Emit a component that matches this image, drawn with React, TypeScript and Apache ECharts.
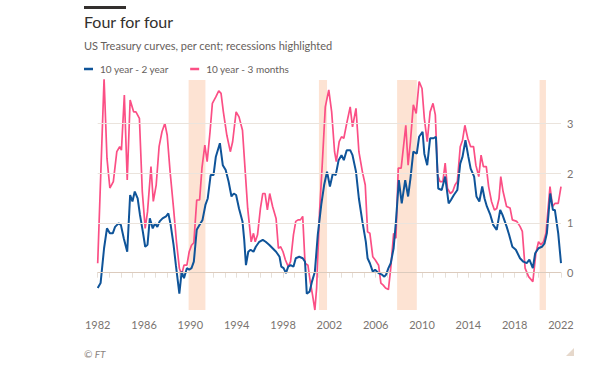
import React, { useEffect, useRef } from "react";
import * as echarts from "echarts";

const titleText = "Four for four";
const subtitleText = "US Treasury curves, per cent; recessions highlighted";
const sourceText = "© FT";
const seriesNames = ["10 year - 2 year", "10 year - 3 months"];
const yLabelValues = [0, 1, 2, 3];
const gridValues = [0, 1, 2, 3];
const recessions: [number, number][] = [
  [1989.85, 1991.3],
  [2001.1, 2001.8],
  [2007.85, 2009.55],
  [2020.15, 2020.7],
];

const twoYearYears = [
  1982.0, 1982.25, 1982.55, 1982.8, 1983.05, 1983.3, 1983.5, 1983.8, 1984.0, 1984.25, 1984.55, 1984.8,
  1985.0, 1985.2, 1985.45, 1985.65, 1985.9, 1986.1, 1986.3, 1986.5, 1986.75, 1986.95, 1987.15, 1987.35,
  1987.6, 1987.9, 1988.1, 1988.3, 1988.55, 1988.75, 1989.05, 1989.25, 1989.45, 1989.7, 1989.9, 1990.1,
  1990.3, 1990.55, 1990.8, 1991.05, 1991.3, 1991.5, 1991.75, 1992.0, 1992.2, 1992.55, 1992.8, 1993.05,
  1993.3, 1993.55, 1993.75, 1993.95, 1994.2, 1994.5, 1994.65, 1994.8, 1995.0, 1995.2, 1995.45, 1995.65,
  1995.95, 1996.25, 1996.5, 1996.8, 1997.1, 1997.4, 1997.7, 1997.85, 1998.05, 1998.25, 1998.45, 1998.65,
  1998.9, 1999.1, 1999.4, 1999.7, 1999.9, 2000.05, 2000.3, 2000.5, 2000.75, 2001.0, 2001.3, 2001.55,
  2001.8, 2002.05, 2002.3, 2002.55, 2002.8, 2003.05, 2003.25, 2003.5, 2003.8, 2004.0, 2004.3, 2004.55,
  2004.85, 2005.15, 2005.3, 2005.5, 2005.75, 2005.95, 2006.25, 2006.55, 2006.75, 2006.9, 2007.1, 2007.3,
  2007.55, 2007.75, 2008.0, 2008.25, 2008.55, 2008.8, 2009.0, 2009.25, 2009.55, 2009.75, 2010.05, 2010.2,
  2010.45, 2010.7, 2011.0, 2011.2, 2011.4, 2011.7, 2012.0, 2012.3, 2012.5, 2012.75, 2013.05, 2013.3,
  2013.5, 2013.75, 2014.0, 2014.2, 2014.5, 2014.7, 2014.95, 2015.2, 2015.4, 2015.6, 2015.9, 2016.15,
  2016.45, 2016.75, 2016.95, 2017.3, 2017.52, 2017.8, 2018.1, 2018.46, 2018.75, 2019.04, 2019.27, 2019.57,
  2019.77, 2020.06, 2020.35, 2020.58, 2020.78, 2021.07, 2021.3, 2021.47, 2021.76, 2022.0,
];
const twoYearValues = [
  -0.31, -0.21, 0.49, 0.89, 0.79, 0.79, 0.92, 0.99, 0.96, 0.69, 0.42, 1.56,
  1.43, 1.63, 1.49, 1.16, 0.82, 0.52, 0.56, 1.09, 0.89, 0.99, 0.92, 1.03,
  1.09, 1.13, 1.19, 0.96, 0.56, 0.15, -0.42, 0.02, -0.11, 0.09, 0.06, 0.09,
  0.22, 0.86, 0.96, 1.06, 1.36, 1.49, 1.96, 1.96, 2.33, 2.6, 2.16, 2.06,
  1.83, 1.53, 1.59, 1.56, 1.29, 1.03, 0.66, 0.15, 0.42, 0.46, 0.42, 0.52,
  0.62, 0.66, 0.62, 0.56, 0.49, 0.42, 0.32, 0.12, 0.09, -0.01, 0.12, 0.15,
  0.12, 0.29, 0.32, 0.29, 0.22, -0.42, -0.38, -0.18, 0.02, 0.76, 1.36, 1.76,
  2.03, 1.73, 1.99, 1.96, 2.26, 2.36, 2.26, 2.46, 2.46, 2.36, 2.03, 1.49,
  1.03, 0.62, 0.29, 0.19, 0.02, 0.06, -0.01, -0.04, -0.08, -0.04, 0.09, 0.19,
  0.49, 1.03, 1.86, 1.39, 1.86, 1.53, 1.89, 2.43, 2.39, 2.73, 2.83, 2.39,
  2.16, 2.7, 2.7, 2.73, 1.69, 1.66, 1.93, 1.39, 1.46, 1.56, 1.66, 2.19,
  2.33, 2.66, 2.33, 2.09, 1.93, 1.53, 1.43, 1.73, 1.49, 1.33, 1.16, 0.96,
  0.86, 1.26, 1.16, 0.93, 0.76, 0.52, 0.46, 0.29, 0.22, 0.19, 0.26, 0.09,
  0.39, 0.49, 0.52, 0.59, 0.79, 1.59, 1.26, 1.26, 0.79, 0.19,
];

const threeMonthYears = [
  1982.0, 1982.55, 1982.8, 1983.05, 1983.35, 1983.65, 1983.9, 1984.05, 1984.3, 1984.55, 1984.8, 1985.1,
  1985.3, 1985.6, 1985.85, 1986.1, 1986.3, 1986.6, 1986.8, 1987.05, 1987.3, 1987.55, 1987.8, 1988.0,
  1988.25, 1988.55, 1988.8, 1989.05, 1989.25, 1989.45, 1989.7, 1989.9, 1990.1, 1990.3, 1990.55, 1990.8,
  1991.0, 1991.25, 1991.45, 1991.7, 1991.9, 1992.2, 1992.45, 1992.65, 1992.85, 1993.15, 1993.45, 1993.65,
  1993.95, 1994.2, 1994.5, 1994.7, 1994.95, 1995.25, 1995.45, 1995.6, 1995.8, 1996.05, 1996.25, 1996.45,
  1996.65, 1996.85, 1997.1, 1997.4, 1997.6, 1997.8, 1998.0, 1998.2, 1998.45, 1998.65, 1998.9, 1999.1,
  1999.3, 1999.5, 1999.7, 1999.9, 2000.15, 2000.35, 2000.55, 2000.75, 2000.9, 2001.15, 2001.4, 2001.65,
  2001.95, 2002.2, 2002.45, 2002.6, 2002.85, 2003.05, 2003.25, 2003.5, 2003.8, 2004.0, 2004.3, 2004.55,
  2004.85, 2005.1, 2005.3, 2005.5, 2005.75, 2005.95, 2006.25, 2006.45, 2006.65, 2006.85, 2007.1, 2007.3,
  2007.55, 2007.75, 2007.95, 2008.2, 2008.6, 2008.8, 2009.0, 2009.25, 2009.5, 2009.75, 2010.0, 2010.2,
  2010.45, 2010.7, 2010.95, 2011.15, 2011.35, 2011.55, 2011.8, 2012.0, 2012.2, 2012.45, 2012.65, 2012.85,
  2013.05, 2013.3, 2013.5, 2013.7, 2013.95, 2014.2, 2014.45, 2014.65, 2014.9, 2015.1, 2015.3, 2015.55,
  2015.75, 2016.0, 2016.25, 2016.45, 2016.65, 2016.8, 2017.0, 2017.3, 2017.6, 2017.8, 2018.18, 2018.46,
  2018.66, 2018.9, 2019.2, 2019.57, 2019.83, 2020.06, 2020.26, 2020.49, 2020.7, 2021.05, 2021.27, 2021.47,
  2021.76, 2022.0,
];
const threeMonthValues = [
  0.19, 3.9, 2.3, 1.7, 1.83, 2.43, 2.53, 2.46, 3.57, 1.86, 3.47, 3.23,
  3.23, 3.1, 1.63, 0.89, 1.22, 2.13, 1.43, 1.76, 2.53, 2.83, 3.0, 2.76,
  2.03, 1.29, 0.62, 0.09, -0.04, 0.15, 0.15, 0.42, 0.55, 0.6, 1.46, 1.46,
  2.1, 2.56, 2.23, 2.83, 3.4, 3.53, 3.65, 3.6, 3.23, 2.76, 2.43, 2.63,
  3.23, 3.13, 2.86, 2.16, 1.29, 0.62, 0.79, 0.62, 0.76, 1.29, 1.59, 1.59,
  1.26, 1.59, 1.33, 1.09, 0.49, 0.52, 0.42, 0.26, 0.12, 0.22, 0.76, 1.03,
  1.06, 1.06, 1.13, 0.19, 0.15, -0.18, -0.45, -0.75, -0.31, 1.2, 2.23, 3.33,
  3.67, 3.23, 2.43, 2.23, 2.63, 2.73, 2.7, 3.0, 3.33, 2.93, 3.3, 2.43,
  2.03, 1.76, 0.82, 0.79, 0.32, 0.26, 0.15, -0.21, -0.25, -0.31, -0.34, 0.09,
  0.79, 0.69, 2.1, 2.1, 2.96, 2.16, 2.63, 3.37, 3.2, 3.84, 3.7, 3.1,
  2.63, 3.23, 3.4, 3.17, 1.96, 1.83, 1.83, 2.2, 1.69, 1.59, 1.63, 1.76,
  1.83, 2.53, 2.66, 2.96, 2.7, 2.53, 2.53, 2.16, 1.93, 2.36, 2.13, 2.13,
  1.73, 1.43, 1.26, 1.29, 1.49, 1.93, 1.63, 1.33, 1.3, 1.06, 1.03, 0.93,
  0.83, 0.09, -0.08, -0.18, 0.39, 0.62, 0.56, 0.62, 0.79, 1.73, 1.33, 1.39,
  1.39, 1.73,
];

const BLUE = "#0f5499";
const PINK = "#fb4f85";
const FONT = "Lato, 'Open Sans', sans-serif";

export default function App() {
  const ref = useRef<HTMLDivElement>(null);
  useEffect(() => {
    if (!ref.current) return;
    const chart = echarts.init(ref.current, null, { renderer: "svg" });
    const zip = (xs: number[], ys: number[]) => xs.map((x, i) => [x, ys[i]]);
    chart.setOption({
      animation: false,
      backgroundColor: "#ffffff",
      textStyle: { fontFamily: FONT },
      title: [
        {
          text: titleText,
          left: 84,
          top: 13,
          padding: 0,
          textStyle: { fontSize: 16, fontWeight: "normal", color: "#33302e", fontFamily: FONT },
        },
        {
          text: subtitleText,
          left: 84,
          top: 40,
          padding: 0,
          textStyle: { fontSize: 11, fontWeight: "normal", color: "#66605c", fontFamily: FONT },
        },
      ],
      legend: {
        left: 84,
        top: 64,
        padding: 0,
        itemGap: 21,
        itemWidth: 9,
        itemHeight: 2.5,
        icon: "rect",
        textStyle: { fontSize: 10, color: "#66605c", fontFamily: FONT, padding: [0, 0, 0, 2] },
        data: seriesNames,
      },
      grid: { left: 97.7, right: 41, top: 80, bottom: 68, containLabel: false },
      xAxis: {
        type: "value",
        min: 1982,
        max: 2022,
        interval: 1,
        axisLine: { show: true, lineStyle: { color: "#e6dfd8", width: 1 } },
        axisTick: { show: true, length: 5, lineStyle: { color: "#e6dfd8" } },
        splitLine: { show: false },
        axisLabel: {
          color: "#7a7470",
          fontSize: 11,
          margin: 9,
          fontFamily: FONT,
          formatter: (v: number) => ((Math.round(v) - 1982) % 4 === 0 ? String(Math.round(v)) : ""),
        },
      },
      yAxis: {
        type: "value",
        position: "right",
        min: -0.75,
        max: 3.87,
        axisLine: { show: false },
        axisTick: { show: false },
        splitLine: { show: false },
        axisLabel: {
          customValues: yLabelValues,
          color: "#7a7470",
          fontSize: 11,
          margin: 6,
          fontFamily: FONT,
        },
      },
      series: [
        {
          name: "grid",
          type: "line",
          data: [],
          z: 1,
          silent: true,
          markLine: {
            silent: true,
            symbol: "none",
            label: { show: false },
            data: gridValues.map((v) => ({
              yAxis: v,
              lineStyle: { color: v === 0 ? "#dccbbd" : "#ebe4dd", width: 1, type: "solid" },
            })),
          },
        },
        {
          name: "bands",
          type: "line",
          data: [],
          z: 2,
          silent: true,
          markArea: {
            silent: true,
            itemStyle: { color: "#fde3d3", opacity: 1 },
            data: recessions.map(([a, b]) => [{ xAxis: a }, { xAxis: b }]),
          },
        },
        {
          name: seriesNames[0],
          type: "line",
          z: 4,
          showSymbol: false,
          symbol: "none",
          color: BLUE,
          lineStyle: { width: 2, color: BLUE },
          data: zip(twoYearYears, twoYearValues),
        },
        {
          name: seriesNames[1],
          type: "line",
          z: 3,
          showSymbol: false,
          symbol: "none",
          color: PINK,
          lineStyle: { width: 1.7, color: PINK },
          data: zip(threeMonthYears, threeMonthValues),
        },
      ],
      graphic: [
        { type: "rect", shape: { x: 84, y: 6, width: 42, height: 3 }, style: { fill: "#33302e" } },
        {
          type: "text",
          left: 84,
          top: 349,
          style: { text: sourceText, fill: "#8a837e", fontSize: 10, fontStyle: "italic", fontFamily: FONT },
        },
        {
          type: "polygon",
          shape: { points: [[574, 348], [574, 356], [566, 356]] },
          style: { fill: "#e6d8cb" },
        },
      ],
    });
    return () => chart.dispose();
  }, []);
  return (
    <div
      ref={ref}
      style={{ position: "fixed", left: 0, top: 0, width: 602, height: 378, background: "#fff" }}
    />
  );
}
